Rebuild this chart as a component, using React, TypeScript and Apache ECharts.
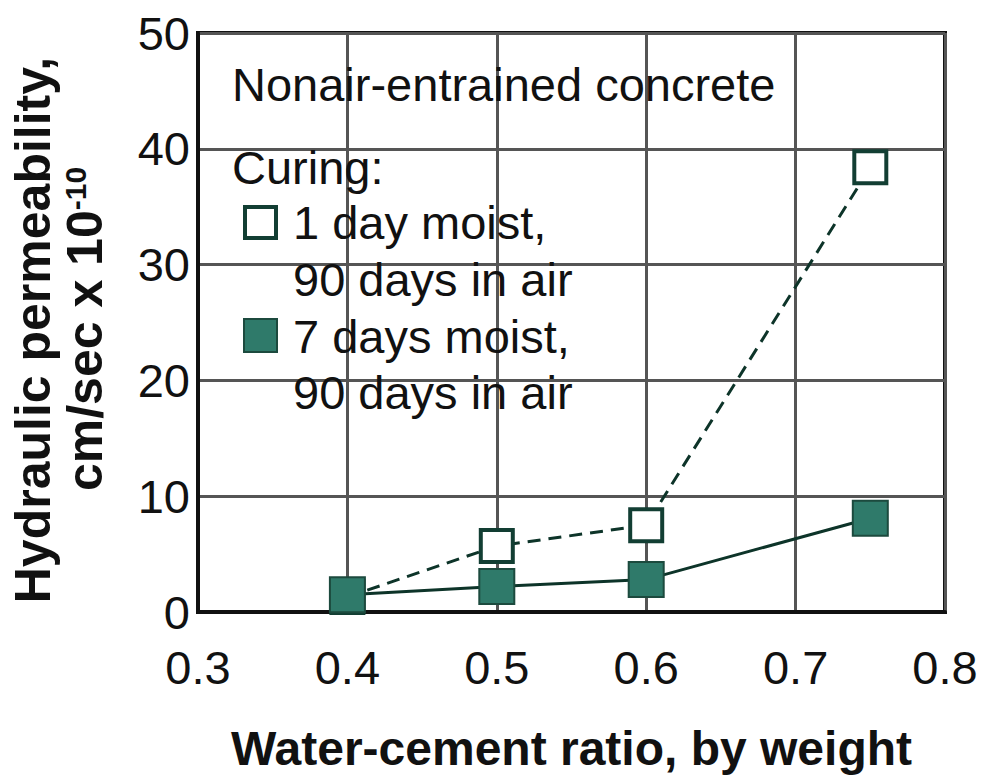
import React, { useEffect, useRef } from "react";
import * as echarts from "echarts";

const xTicks = [0.3, 0.4, 0.5, 0.6, 0.7, 0.8];
const yTicks = [0, 10, 20, 30, 40, 50];
const waterCementRatio = [0.4, 0.5, 0.6, 0.75];
const oneDayMoist = [1.3, 5.7, 7.5, 38.4];
const sevenDaysMoist = [1.5, 2.2, 2.8, 8.1];

const titleText = "Nonair-entrained concrete";
const curingText = "Curing:";
const legend1 = ["1 day moist,", "90 days in air"];
const legend2 = ["7 days moist,", "90 days in air"];
const xName = "Water-cement ratio, by weight";
const yName1 = "Hydraulic permeability,";
const yName2 = "cm/sec x 10";
const yNameSup = "-10";

const FONT = "'Liberation Sans', Arial, Helvetica, sans-serif";
const LINE_DARK = "#0d3429";
const FILL_GREEN = "#2f7a6a";

export default function App() {
  const ref = useRef<HTMLDivElement>(null);
  useEffect(() => {
    if (!ref.current) return;
    const chart = echarts.init(ref.current, undefined, { renderer: "svg" });
    const txt = (x: number, y: number, text: string) => ({
      type: "text",
      x,
      y,
      z: 10,
      style: {
        text,
        fontFamily: FONT,
        fontSize: 47,
        fill: "#111",
        align: "left",
        verticalAlign: "middle",
      },
    });
    chart.setOption({
      animation: false,
      backgroundColor: "#fff",
      grid: {
        left: 198,
        right: 42,
        top: 33,
        bottom: 163,
        show: true,
        borderColor: "#111",
        borderWidth: 4,
        backgroundColor: "transparent",
      },
      xAxis: {
        type: "value",
        min: xTicks[0],
        max: xTicks[xTicks.length - 1],
        interval: 0.1,
        name: xName,
        nameLocation: "middle",
        nameGap: 112,
        nameTextStyle: {
          fontFamily: FONT,
          fontSize: 48,
          fontWeight: "bold",
          color: "#111",
        },
        axisLine: { show: true, lineStyle: { color: "#111", width: 4 } },
        axisTick: { show: false },
        axisLabel: {
          fontFamily: FONT,
          fontSize: 47,
          color: "#111",
          margin: 32,
          formatter: (v: number) => v.toFixed(1),
        },
        splitLine: { show: true, lineStyle: { color: "#555", width: 3 } },
      },
      yAxis: {
        type: "value",
        min: yTicks[0],
        max: yTicks[yTicks.length - 1],
        interval: 10,
        axisLine: { show: true, lineStyle: { color: "#111", width: 4 } },
        axisTick: { show: false },
        axisLabel: {
          fontFamily: FONT,
          fontSize: 47,
          color: "#111",
          margin: 8,
        },
        splitLine: { show: true, lineStyle: { color: "#555", width: 3 } },
      },
      series: [
        {
          name: "1 day moist, 90 days in air",
          type: "line",
          data: waterCementRatio.map((x, i) => [x, oneDayMoist[i]]),
          symbol: "rect",
          symbolSize: 32,
          z: 3,
          lineStyle: { color: LINE_DARK, width: 3, type: [13, 8] },
          itemStyle: { color: "#fff", borderColor: "#123e33", borderWidth: 4 },
        },
        {
          name: "7 days moist, 90 days in air",
          type: "line",
          data: waterCementRatio.map((x, i) => [x, sevenDaysMoist[i]]),
          symbol: "rect",
          symbolSize: 35,
          z: 4,
          lineStyle: { color: LINE_DARK, width: 3 },
          itemStyle: { color: FILL_GREEN, borderColor: "#1c4a3e", borderWidth: 2 },
        },
      ],
      graphic: [
        txt(232, 84, titleText),
        txt(232, 167, curingText),
        {
          type: "rect",
          z: 10,
          shape: { x: 245, y: 207, width: 31, height: 31 },
          style: { fill: "#fff", stroke: "#123e33", lineWidth: 4 },
        },
        txt(293, 222, legend1[0]),
        txt(293, 279, legend1[1]),
        {
          type: "rect",
          z: 10,
          shape: { x: 244, y: 319, width: 33, height: 33 },
          style: { fill: FILL_GREEN, stroke: "#1c4a3e", lineWidth: 2 },
        },
        txt(293, 336, legend2[0]),
        txt(293, 392, legend2[1]),
        {
          type: "text",
          x: 33,
          y: 330,
          rotation: Math.PI / 2,
          z: 10,
          style: {
            text: yName1,
            fontFamily: FONT,
            fontSize: 50,
            fontWeight: "bold",
            fill: "#111",
            align: "center",
            verticalAlign: "middle",
          },
        },
        {
          type: "text",
          x: 85,
          y: 329,
          rotation: Math.PI / 2,
          z: 10,
          style: {
            text: "{b|" + yName2 + "}{s|" + yNameSup + "}",
            fontFamily: FONT,
            fill: "#111",
            align: "center",
            verticalAlign: "middle",
            rich: {
              b: { fontFamily: FONT, fontSize: 50, fontWeight: "bold", fill: "#111" },
              s: {
                fontFamily: FONT,
                fontSize: 30,
                fontWeight: "bold",
                fill: "#111",
                verticalAlign: "top",
              },
            },
          },
        },
      ],
    });
    return () => chart.dispose();
  }, []);
  return (
    <div
      ref={ref}
      style={{ position: "fixed", left: 0, top: 0, width: 987, height: 777 }}
    />
  );
}
